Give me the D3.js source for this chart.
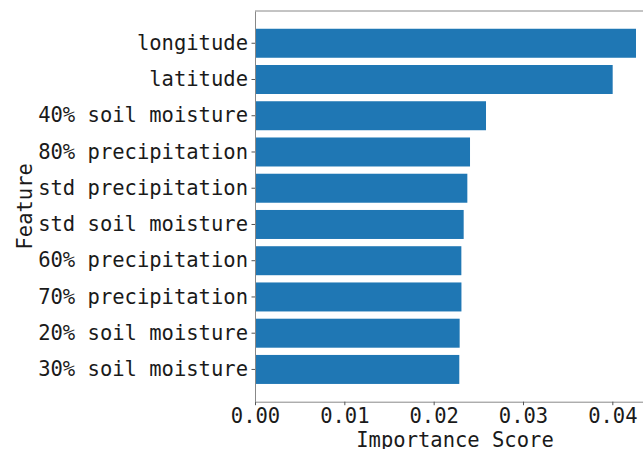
<!DOCTYPE html>
<html>
<head>
<meta charset="utf-8">
<script src="https://cdn.jsdelivr.net/npm/d3@7"></script>
<style>
  body { margin: 0; background: #fff; }
  svg { display: block; }
</style>
</head>
<body>
<div id="mainDiv"></div>
<script>
// top to bottom
const features = [
  "longitude",
  "latitude",
  "40% soil moisture",
  "80% precipitation",
  "std precipitation",
  "std soil moisture",
  "60% precipitation",
  "70% precipitation",
  "20% soil moisture",
  "30% soil moisture",
];
const importance = [0.04265, 0.04004, 0.02586, 0.02407, 0.02377, 0.02336, 0.02310, 0.02311, 0.02291, 0.02287];
const xTicks = [0, 0.01, 0.02, 0.03, 0.04];

const chartSize = {
  width: 643,
  height: 449,
  margin: { top: 11, left: 255, bottom: 47.3 },
  pxPerUnit: 8933,
};
const fontFamily = "'DejaVu Sans Mono', monospace";
const fontSize = 20.5;

const svg = d3.select("#mainDiv")
  .append("svg")
  .attr("width", chartSize.width)
  .attr("height", chartSize.height);

// matplotlib leaves 5% headroom on the right, which runs past the window
let xMax = d3.max(importance) * 1.05;
let x = d3.scaleLinear()
  .domain([0, xMax])
  .range([chartSize.margin.left, chartSize.margin.left + xMax * chartSize.pxPerUnit]);

let y = d3.scaleBand()
  .domain(features)
  .range([chartSize.margin.top, chartSize.height - chartSize.margin.bottom])
  .paddingInner(0.2)
  .paddingOuter(0.49);

svg.append("g")
  .selectAll("rect")
  .data(features)
  .join("rect")
  .attr("x", x(0))
  .attr("y", d => y(d))
  .attr("width", (d, i) => x(importance[i]) - x(0))
  .attr("height", y.bandwidth())
  .attr("fill", "#1f77b4");

const plotTop = chartSize.margin.top;
const plotBottom = chartSize.height - chartSize.margin.bottom;

// frame (top spine; right spine is off screen)
svg.append("line")
  .attr("x1", x(0)).attr("x2", x(xMax))
  .attr("y1", plotTop).attr("y2", plotTop)
  .attr("stroke", "#888").attr("stroke-width", 1);

let xAxis = g => g
  .attr("transform", `translate(0,${plotBottom})`)
  .call(d3.axisBottom(x)
    .tickValues(xTicks)
    .tickFormat(d3.format(".2f"))
    .tickSize(3.5)
    .tickPadding(3.5)
    .tickSizeOuter(0));

let yAxis = g => g
  .attr("transform", `translate(${x(0)},0)`)
  .call(d3.axisLeft(y)
    .tickSize(3.5)
    .tickPadding(3.5)
    .tickSizeOuter(0));

[xAxis, yAxis].forEach(axis => {
  svg.append("g")
    .call(axis)
    .call(g => g.selectAll("text")
      .attr("fill", "#1a1a1a")
      .attr("font-family", fontFamily)
      .attr("font-size", fontSize))
    .call(g => g.selectAll(".tick line").attr("stroke", "#555"))
    .call(g => g.select(".domain").attr("stroke", "#888"));
});

svg.append("text")
  .attr("x", (x(0) + x(xMax)) / 2)
  .attr("y", 447)
  .attr("text-anchor", "middle")
  .attr("font-family", fontFamily)
  .attr("font-size", fontSize)
  .attr("fill", "#1a1a1a")
  .text("Importance Score");

svg.append("text")
  .attr("transform", `translate(32,${(plotTop + plotBottom) / 2}) rotate(-90)`)
  .attr("text-anchor", "middle")
  .attr("font-family", fontFamily)
  .attr("font-size", fontSize)
  .attr("fill", "#1a1a1a")
  .text("Feature");
</script>
</body>
</html>
